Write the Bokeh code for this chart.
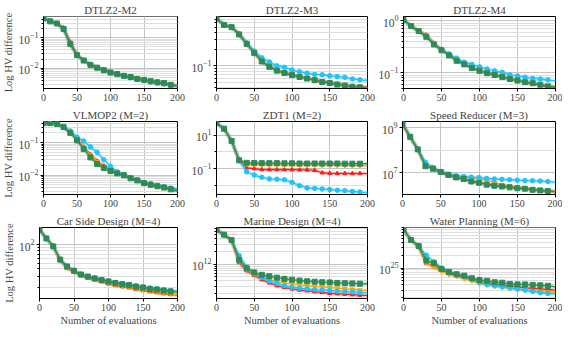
from bokeh.plotting import figure
from bokeh.layouts import column, row
from bokeh.models import FixedTicker, LogTickFormatter, Range1d
from bokeh.embed import file_html
from bokeh.resources import INLINE

EVALS = [0, 10, 20, 30, 40, 50, 60, 70, 80, 90, 100, 110, 120, 130, 140, 150, 160, 170, 180, 190, 200]
X_TICKS = [0, 50, 100, 150, 200]

# DTLZ2-M2
D2M2_RED = [0.43, 0.34, 0.29, 0.21, 0.07, 0.028, 0.018, 0.0135, 0.0108, 0.009, 0.0075, 0.0066, 0.0058, 0.0052, 0.0046, 0.0042, 0.0039, 0.0036, 0.0033, 0.003, 0.0027]
D2M2_ORANGE = [0.43, 0.34, 0.29, 0.2, 0.058, 0.026, 0.018, 0.013, 0.0105, 0.0088, 0.0074, 0.0065, 0.0057, 0.0051, 0.0045, 0.0042, 0.0038, 0.0035, 0.0032, 0.0029, 0.0027]
D2M2_BLUE = [0.43, 0.34, 0.29, 0.19, 0.06, 0.027, 0.018, 0.013, 0.0104, 0.0086, 0.0072, 0.0063, 0.0055, 0.005, 0.0044, 0.004, 0.0036, 0.0033, 0.0031, 0.0028, 0.0026]
D2M2_GREEN = [0.43, 0.34, 0.29, 0.19, 0.063, 0.027, 0.018, 0.013, 0.0105, 0.0087, 0.0073, 0.0065, 0.0057, 0.0052, 0.0045, 0.0042, 0.0038, 0.0035, 0.0033, 0.0029, 0.0027]

# DTLZ2-M3
D2M3_RED = [0.72, 0.55, 0.5, 0.38, 0.25, 0.175, 0.123, 0.098, 0.084, 0.075, 0.069, 0.064, 0.06, 0.056, 0.052, 0.05, 0.047, 0.045, 0.043, 0.042, 0.041]
D2M3_ORANGE = [0.72, 0.55, 0.5, 0.38, 0.26, 0.175, 0.124, 0.099, 0.085, 0.076, 0.07, 0.064, 0.06, 0.056, 0.052, 0.049, 0.047, 0.045, 0.043, 0.041, 0.04]
D2M3_BLUE = [0.72, 0.55, 0.5, 0.37, 0.26, 0.185, 0.14, 0.118, 0.1, 0.094, 0.084, 0.078, 0.074, 0.07, 0.069, 0.066, 0.064, 0.062, 0.058, 0.056, 0.055]
D2M3_GREEN = [0.72, 0.55, 0.5, 0.37, 0.25, 0.17, 0.12, 0.096, 0.082, 0.074, 0.068, 0.063, 0.059, 0.055, 0.051, 0.049, 0.046, 0.044, 0.042, 0.041, 0.04]

# DTLZ2-M4
D2M4_RED = [1.04, 0.785, 0.63, 0.53, 0.37, 0.28, 0.22, 0.175, 0.148, 0.126, 0.111, 0.1, 0.092, 0.084, 0.077, 0.071, 0.066, 0.062, 0.058, 0.055, 0.052]
D2M4_ORANGE = [1.04, 0.785, 0.63, 0.52, 0.36, 0.28, 0.22, 0.175, 0.148, 0.127, 0.112, 0.1, 0.093, 0.085, 0.078, 0.072, 0.067, 0.063, 0.059, 0.056, 0.053]
D2M4_BLUE = [1.04, 0.785, 0.63, 0.5, 0.36, 0.28, 0.23, 0.19, 0.16, 0.145, 0.13, 0.118, 0.109, 0.102, 0.091, 0.087, 0.082, 0.078, 0.076, 0.073, 0.07]
D2M4_GREEN = [1.04, 0.785, 0.63, 0.49, 0.35, 0.27, 0.215, 0.17, 0.145, 0.123, 0.109, 0.098, 0.091, 0.083, 0.076, 0.071, 0.066, 0.063, 0.059, 0.055, 0.053]

# VLMOP2 (M=2)
VL_RED = [0.4, 0.4, 0.38, 0.31, 0.21, 0.13, 0.072, 0.043, 0.027, 0.019, 0.0143, 0.0117, 0.01, 0.0081, 0.0069, 0.0057, 0.0051, 0.0046, 0.0041, 0.0037, 0.0033]
VL_ORANGE = [0.4, 0.4, 0.38, 0.31, 0.21, 0.125, 0.07, 0.042, 0.026, 0.018, 0.014, 0.0115, 0.0099, 0.008, 0.0068, 0.0057, 0.005, 0.0045, 0.0041, 0.0036, 0.0033]
VL_BLUE = [0.4, 0.4, 0.38, 0.31, 0.23, 0.148, 0.112, 0.074, 0.05, 0.0295, 0.0186, 0.0126, 0.0105, 0.0083, 0.007, 0.0058, 0.0054, 0.0048, 0.0044, 0.004, 0.0037]
VL_GREEN = [0.4, 0.4, 0.38, 0.3, 0.2, 0.117, 0.063, 0.035, 0.022, 0.0166, 0.0132, 0.0112, 0.0098, 0.0079, 0.0068, 0.0056, 0.005, 0.0045, 0.0041, 0.0036, 0.0032]

# ZDT1 (M=2)
ZDT_RED = [52, 24, 4.5, 0.3, 0.11, 0.1, 0.087, 0.087, 0.087, 0.086, 0.085, 0.084, 0.083, 0.078, 0.056, 0.052, 0.051, 0.051, 0.051, 0.051, 0.05]
ZDT_ORANGE = [52, 24, 4.5, 0.3, 0.18, 0.175, 0.17, 0.17, 0.165, 0.165, 0.165, 0.16, 0.16, 0.16, 0.16, 0.155, 0.155, 0.155, 0.15, 0.15, 0.15]
ZDT_BLUE = [52, 24, 4.5, 0.3, 0.064, 0.041, 0.03, 0.024, 0.023, 0.021, 0.015, 0.0095, 0.0069, 0.0065, 0.006, 0.0055, 0.005, 0.0047, 0.0043, 0.0039, 0.0037]
ZDT_GREEN = [52, 24, 4.5, 0.31, 0.22, 0.215, 0.21, 0.21, 0.21, 0.205, 0.205, 0.2, 0.2, 0.2, 0.2, 0.2, 0.2, 0.195, 0.195, 0.195, 0.195]

# Speed Reducer (M=3)
SR_RED = [1.5e9, 4e8, 1.1e8, 2.1e7, 1.5e7, 1.05e7, 7.6e6, 6e6, 5e6, 4.2e6, 3.6e6, 3.1e6, 2.7e6, 2.5e6, 2.3e6, 2.1e6, 1.9e6, 1.75e6, 1.6e6, 1.5e6, 1.4e6]
SR_ORANGE = [1.5e9, 4e8, 1.1e8, 2.2e7, 1.55e7, 1.1e7, 8.5e6, 7.3e6, 6.7e6, 6e6, 5.3e6, 4.5e6, 3.7e6, 2.9e6, 2.5e6, 2.2e6, 2e6, 1.8e6, 1.65e6, 1.5e6, 1.4e6]
SR_BLUE = [1.5e9, 4e8, 1.1e8, 2.9e7, 1.7e7, 1.1e7, 8.5e6, 7.3e6, 6.7e6, 6.3e6, 6e6, 5.5e6, 5.2e6, 5e6, 4.8e6, 4.6e6, 4.4e6, 4.3e6, 4.2e6, 4e6, 3.7e6]
SR_GREEN = [1.5e9, 4e8, 1.1e8, 1.95e7, 1.5e7, 1.07e7, 7.9e6, 6.1e6, 5.2e6, 4e6, 3.5e6, 2.9e6, 2.6e6, 2.4e6, 2.2e6, 2e6, 1.9e6, 1.7e6, 1.6e6, 1.5e6, 1.4e6]

# Car Side Design (M=4)
CS_RED = [177, 127, 94, 55, 41, 35.5, 31, 28.5, 26.5, 24.7, 22.8, 21.6, 20.5, 19.6, 18.6, 17.8, 17, 16.4, 15.8, 15.3, 14.9]
CS_ORANGE = [177, 127, 94, 56, 42, 36, 31.5, 29, 27, 25.2, 23.3, 22, 21, 20, 19, 18.2, 17.4, 16.8, 16.2, 15.6, 15.2]
CS_BLUE = [177, 127, 94, 57, 44, 37.5, 32.8, 30.3, 28.4, 26.8, 25.4, 24.1, 23.1, 22.3, 21.2, 20.4, 19.5, 19, 18.3, 17.7, 17.3]
CS_GREEN = [177, 127, 94, 57, 44, 37.5, 32.5, 30, 28, 26.4, 24.9, 23.5, 22.5, 21.7, 20.5, 19.8, 18.8, 18.4, 17.7, 17.1, 16.7]

# Marine Design (M=4)
MD_RED = [6.5e12, 5e12, 3.7e12, 1.1e12, 7e11, 5.4e11, 4.3e11, 3.6e11, 3.1e11, 2.8e11, 2.6e11, 2.45e11, 2.35e11, 2.25e11, 2.15e11, 2.05e11, 2e11, 1.95e11, 1.9e11, 1.85e11, 1.8e11]
MD_ORANGE = [6.5e12, 5e12, 3.7e12, 1.2e12, 7.5e11, 5.8e11, 5e11, 4.3e11, 3.9e11, 3.6e11, 3.4e11, 3.25e11, 3.1e11, 3e11, 2.9e11, 2.8e11, 2.7e11, 2.6e11, 2.55e11, 2.45e11, 2.4e11]
MD_BLUE = [6.5e12, 5e12, 3.7e12, 1.6e12, 8.5e11, 6e11, 4.8e11, 4e11, 3.5e11, 3.1e11, 2.85e11, 2.7e11, 2.6e11, 2.5e11, 2.45e11, 2.4e11, 2.3e11, 2.25e11, 2.2e11, 2.15e11, 2.1e11]
MD_GREEN = [6.5e12, 5e12, 3.7e12, 1.27e12, 8e11, 6.4e11, 5.6e11, 5.2e11, 4.8e11, 4.5e11, 4.3e11, 4.1e11, 3.95e11, 3.85e11, 3.75e11, 3.7e11, 3.6e11, 3.55e11, 3.5e11, 3.45e11, 3.4e11]

# Water Planning (M=6)
WP_RED = [8.1e25, 4.6e25, 3.1e25, 1.3e25, 1.1e25, 8.8e24, 7.5e24, 6.6e24, 6e24, 5.3e24, 4.5e24, 4.3e24, 4.1e24, 3.9e24, 3.7e24, 3.6e24, 3.4e24, 3.3e24, 3.2e24, 3.1e24, 3e24]
WP_ORANGE = [8.1e25, 4.6e25, 3.2e25, 1.3e25, 1.05e25, 8.3e24, 7.1e24, 6.3e24, 5.6e24, 5e24, 4.3e24, 4e24, 3.7e24, 3.5e24, 3.3e24, 3.1e24, 3e24, 2.9e24, 2.8e24, 2.7e24, 2.6e24]
WP_BLUE = [8.1e25, 4.6e25, 3.3e25, 2e25, 1.4e25, 1e25, 8.3e24, 7.2e24, 6.4e24, 5.5e24, 4.6e24, 4.1e24, 3.8e24, 3.6e24, 3.4e24, 3.2e24, 3e24, 2.8e24, 2.6e24, 2.5e24, 2.4e24]
WP_GREEN = [8.1e25, 4.6e25, 3.3e25, 1.5e25, 1.3e25, 9.5e24, 8e24, 7.1e24, 6.6e24, 5.7e24, 5.2e24, 5e24, 4.6e24, 4.5e24, 4.2e24, 4.1e24, 4.1e24, 4e24, 3.9e24, 3.8e24, 3.6e24]

TITLES = ["DTLZ2-M2", "DTLZ2-M3", "DTLZ2-M4", "VLMOP2 (M=2)", "ZDT1 (M=2)",
          "Speed Reducer (M=3)", "Car Side Design (M=4)", "Marine Design (M=4)", "Water Planning (M=6)"]

COLORS = ["#ff1a1a", "#ffa500", "#1ec3ff", "#2e8b57"]
MARKERS = ["triangle", "inverted_triangle", "circle", "square"]
MSIZES = [4, 4.5, 4.5, 5]

FONT = "Liberation Serif"


def decade_minors(lo_exp, hi_exp):
    return [m * 10.0 ** e for e in range(lo_exp, hi_exp + 1) for m in range(2, 10)]


def panel(title, series, yr, majors, minors, width, height, left, right, top, bottom,
          ylabel=False, xlabel=False):
    p = figure(width=width, height=height, y_axis_type="log",
               x_range=Range1d(0, 200), y_range=Range1d(*yr),
               output_backend="svg", toolbar_location=None, title=title,
               min_border_left=left, min_border_right=right,
               min_border_top=top, min_border_bottom=bottom)
    p.title.align = "center"
    p.title.text_font = FONT
    p.title.text_font_size = "11px"
    p.title.text_font_style = "normal"
    p.title.standoff = 2
    p.outline_line_color = "black"
    p.outline_line_alpha = 1
    p.background_fill_color = "white"
    p.border_fill_color = "white"

    xt = FixedTicker(ticks=X_TICKS, minor_ticks=[])
    yt = FixedTicker(ticks=majors, minor_ticks=minors)
    p.xaxis.ticker = xt
    p.yaxis.ticker = yt
    p.xgrid.ticker = xt
    p.ygrid.ticker = yt
    p.yaxis.formatter = LogTickFormatter()

    for ax in (p.xaxis[0], p.yaxis[0]):
        ax.major_label_text_font = FONT
        ax.major_label_text_font_size = "10px"
        ax.axis_label_text_font = FONT
        ax.axis_label_text_font_size = "10.5px"
        ax.axis_label_text_font_style = "normal"
        ax.major_tick_out = 3
        ax.major_tick_in = 0
        ax.minor_tick_out = 2
        ax.minor_tick_in = 0
        ax.major_label_standoff = 2
        ax.axis_label_standoff = 1
        ax.axis_line_color = "black"
    p.yaxis.major_label_text_font_size = "11.5px"
    if ylabel:
        p.yaxis.axis_label = "Log HV difference"
    if xlabel:
        p.xaxis.axis_label = "Number of evaluations"

    p.xgrid.grid_line_color = "#c4c4c4"
    p.ygrid.grid_line_color = "#c4c4c4"
    p.ygrid.minor_grid_line_color = "#dedede"

    for vals, c, mk, ms in zip(series, COLORS, MARKERS, MSIZES):
        p.line(EVALS, vals, color=c, line_width=4, alpha=0.2)
        p.line(EVALS, vals, color=c, line_width=1.3)
        p.scatter(EVALS[:-1], vals[:-1], marker=mk, size=ms, color=c)
    return p


COLW = [(186, 30, 9), (189, 30, 8), (187, 27, 7)]
ROWH = [(104, 14, 16), (106, 17, 16), (118, 17, 28)]

specs = [
    ([D2M2_RED, D2M2_ORANGE, D2M2_BLUE, D2M2_GREEN], (0.0022, 0.49), [0.01, 0.1], decade_minors(-3, -1)),
    ([D2M3_RED, D2M3_ORANGE, D2M3_BLUE, D2M3_GREEN], (0.039, 0.78), [0.1, 1.0], decade_minors(-2, -1)),
    ([D2M4_RED, D2M4_ORANGE, D2M4_BLUE, D2M4_GREEN], (0.05, 1.2), [0.1, 1.0], decade_minors(-2, -1)),
    ([VL_RED, VL_ORANGE, VL_BLUE, VL_GREEN], (0.0025, 0.45), [0.01, 0.1], decade_minors(-3, -1)),
    ([ZDT_RED, ZDT_ORANGE, ZDT_BLUE, ZDT_GREEN], (0.0028, 65), [0.1, 10], [0.01, 1.0]),
    ([SR_RED, SR_ORANGE, SR_BLUE, SR_GREEN], (1.05e6, 1.95e9), [1e7, 1e9], [1e6, 1e8]),
    ([CS_RED, CS_ORANGE, CS_BLUE, CS_GREEN], (13.1, 192), [100], decade_minors(1, 2)),
    ([MD_RED, MD_ORANGE, MD_BLUE, MD_GREEN], (1.54e11, 7.4e12), [1e12], decade_minors(11, 12)),
    ([WP_RED, WP_ORANGE, WP_BLUE, WP_GREEN], (1.9e24, 9.1e25), [1e25], decade_minors(24, 25)),
]

rows = []
for r in range(3):
    figs = []
    for c in range(3):
        i = r * 3 + c
        series, yr, majors, minors = specs[i]
        w, l, rt = COLW[c]
        h, t, b = ROWH[r]
        figs.append(panel(TITLES[i], series, yr, majors, minors, w, h, l, rt, t, b,
                          ylabel=(c == 0), xlabel=(r == 2)))
    rows.append(row(*figs))

layout = column(*rows)
open("out.html", "w").write(file_html(layout, INLINE))
